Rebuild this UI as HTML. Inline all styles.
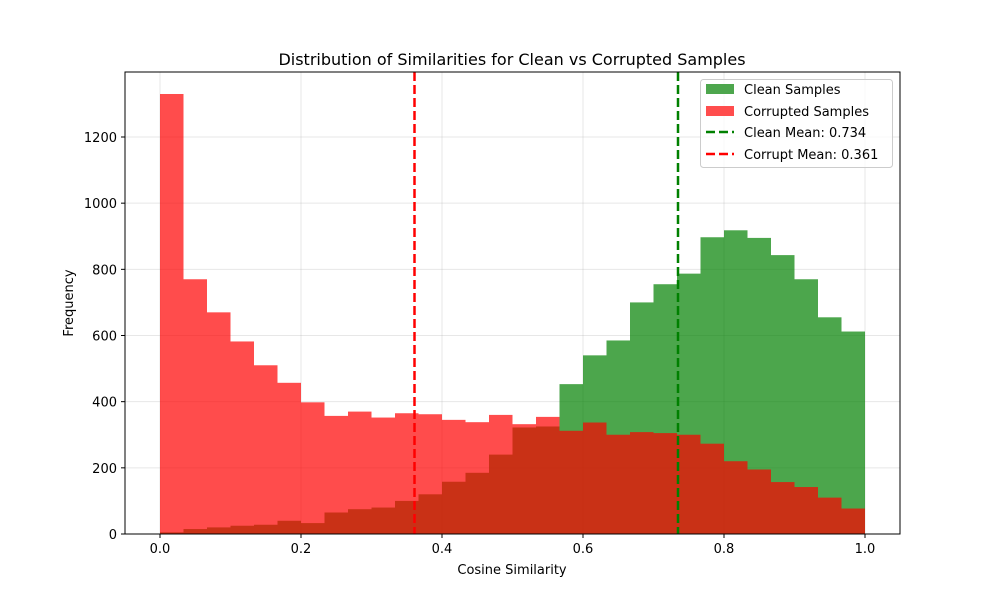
<!DOCTYPE html>
<html><head><meta charset="utf-8"><style>
body{margin:0;background:#fff}
svg text{font-family:"DejaVu Sans","Liberation Sans",sans-serif;fill:#000}
</style></head><body>
<svg id="s" width="1000" height="600" xmlns="http://www.w3.org/2000/svg">
<rect width="1000" height="600" fill="#fff"/>
<g id="grid"></g>
<g id="bars"></g>
<line x1="678" y1="72" x2="678" y2="534" stroke="#008000" stroke-width="2.5" stroke-dasharray="9,4"/>
<line x1="414.5" y1="72" x2="414.5" y2="534" stroke="#ff0000" stroke-width="2.5" stroke-dasharray="9,4"/>
<rect x="125" y="72" width="775" height="462" fill="none" stroke="#000" stroke-width="1"/>
<g id="ticks" font-size="13"></g>
<text x="512" y="65" font-size="16" text-anchor="middle">Distribution of Similarities for Clean vs Corrupted Samples</text>
<text x="512" y="574" font-size="13" text-anchor="middle">Cosine Similarity</text>
<text transform="translate(73,303) rotate(-90)" font-size="13" text-anchor="middle">Frequency</text>
<g font-size="13">
<rect x="700.5" y="79.5" width="192" height="88" rx="3" fill="#fff" fill-opacity="0.8" stroke="#ccc"/>
<rect x="706" y="84" width="28" height="10" fill="#4da64d"/>
<text x="744" y="94">Clean Samples</text>
<rect x="706" y="106" width="28" height="10" fill="#ff4d4d"/>
<text x="744" y="116">Corrupted Samples</text>
<line x1="706" y1="132" x2="734" y2="132" stroke="#008000" stroke-width="2.5" stroke-dasharray="9,4"/>
<text x="744" y="137">Clean Mean: 0.734</text>
<line x1="706" y1="154" x2="734" y2="154" stroke="#ff0000" stroke-width="2.5" stroke-dasharray="9,4"/>
<text x="744" y="159">Corrupt Mean: 0.361</text>
</g>
</svg>
<script>
var red=[1330,770,670,582,510,457,398,357,370,352,365,362,345,338,360,332,354,312,337,300,308,305,300,273,220,195,157,142,110,77];
var grn=[5,15,20,25,28,40,33,65,75,80,100,120,158,185,240,322,325,453,540,585,700,755,787,897,918,895,843,770,655,612];
var X=function(v){return 160+705*v},Y=function(v){return 534-v*397/1200};
var ns="http://www.w3.org/2000/svg",b=document.getElementById("bars"),g=document.getElementById("grid"),t=document.getElementById("ticks");
function el(p,n,a){var e=document.createElementNS(ns,n);for(var k in a)e.setAttribute(k,a[k]);p.appendChild(e);return e}
var w=705/30;
for(var i=0;i<30;i++){var x=160+i*w;
el(b,"rect",{x:x,y:Y(grn[i]),width:w,height:534-Y(grn[i]),fill:"#008000","fill-opacity":0.7});}
for(var i=0;i<30;i++){var x=160+i*w;
el(b,"rect",{x:x,y:Y(red[i]),width:w,height:534-Y(red[i]),fill:"#ff0000","fill-opacity":0.7});}
for(var k=0;k<=5;k++){var v=k/5,x=X(v);
el(g,"line",{x1:x,x2:x,y1:72,y2:534,stroke:"#b0b0b0","stroke-opacity":0.3});
el(t,"line",{x1:x,x2:x,y1:534,y2:538,stroke:"#000"});
var e=el(t,"text",{x:x,y:553,"text-anchor":"middle"});e.textContent=v.toFixed(1);}
for(var k=0;k<=6;k++){var v=k*200,y=Y(v);
el(g,"line",{x1:125,x2:900,y1:y,y2:y,stroke:"#b0b0b0","stroke-opacity":0.3});
el(t,"line",{x1:121,x2:125,y1:y,y2:y,stroke:"#000"});
var e=el(t,"text",{x:117,y:y+5,"text-anchor":"end"});e.textContent=v;}
</script>
</body></html>
